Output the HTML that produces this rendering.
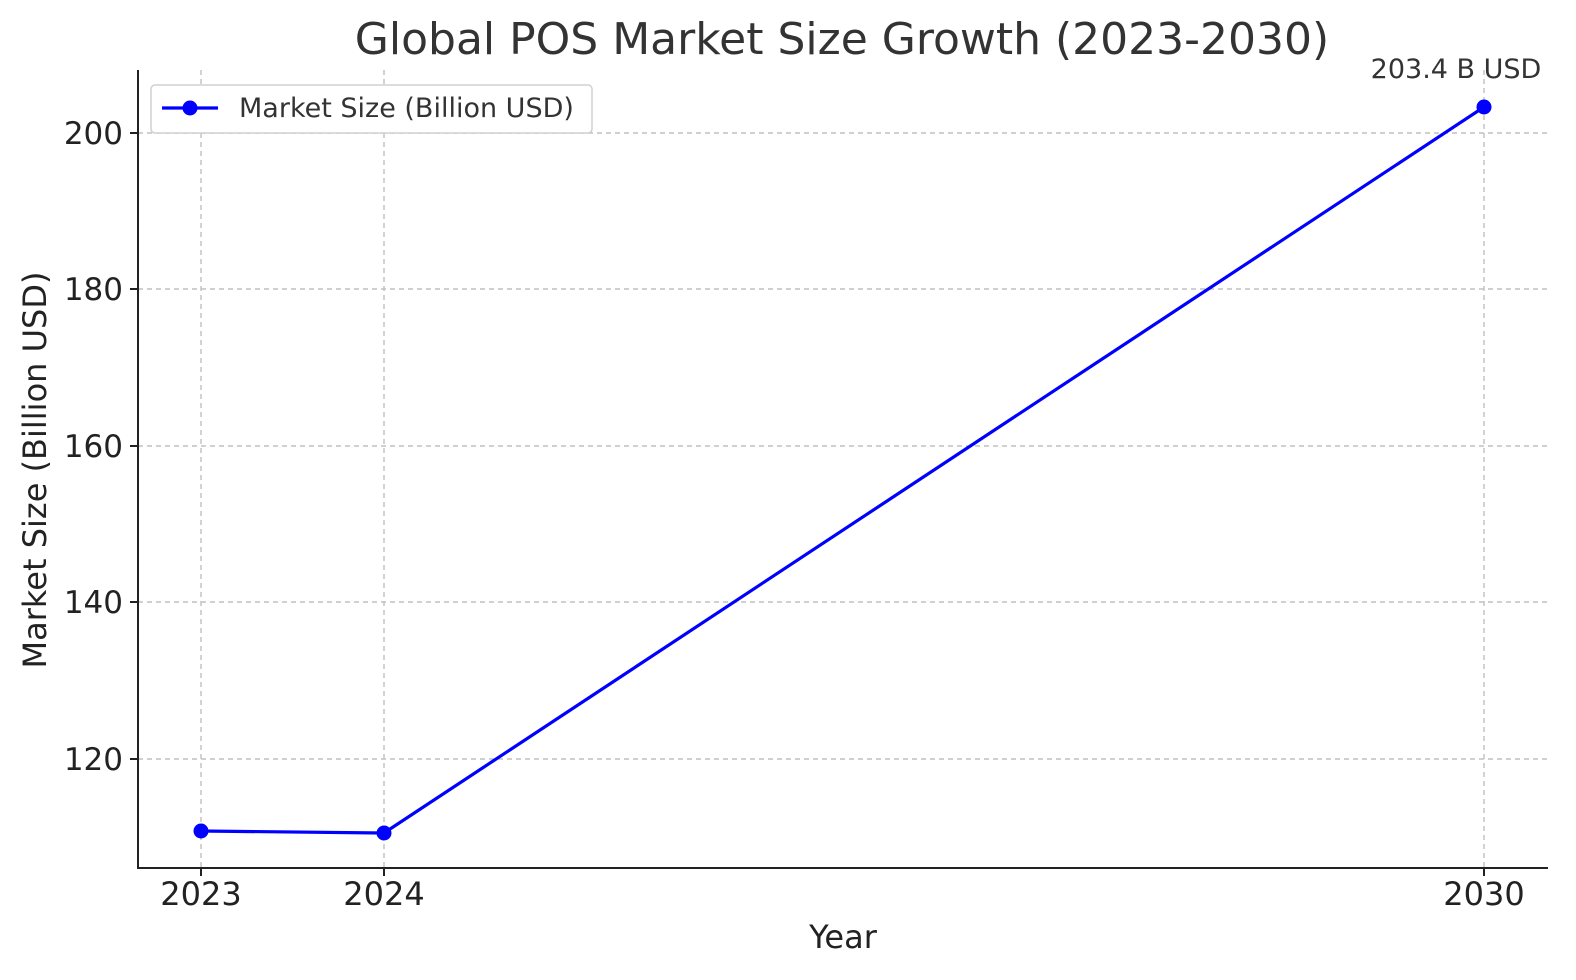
<!DOCTYPE html>
<html><head><meta charset="utf-8"><style>
html,body{margin:0;padding:0;background:#fff;}
svg{display:block;font-family:"DejaVu Sans","Liberation Sans",sans-serif;}
</style></head><body>
<svg width="1576" height="980" viewBox="0 0 1576 980" xmlns="http://www.w3.org/2000/svg">
<rect width="1576" height="980" fill="#fff"/>
<text x="842" y="54" font-size="44" fill="#333" text-anchor="middle">Global POS Market Size Growth (2023-2030)</text>
<g stroke="#c0c0c0" stroke-width="1.4" stroke-dasharray="5,4">
<line x1="138" y1="133" x2="1548" y2="133"/>
<line x1="138" y1="289" x2="1548" y2="289"/>
<line x1="138" y1="446" x2="1548" y2="446"/>
<line x1="138" y1="602" x2="1548" y2="602"/>
<line x1="138" y1="759" x2="1548" y2="759"/>
<line x1="201" y1="70" x2="201" y2="868"/>
<line x1="384" y1="70" x2="384" y2="868"/>
<line x1="1484" y1="70" x2="1484" y2="868"/>
</g>
<g stroke="#222" stroke-width="2">
<line x1="138" y1="70" x2="138" y2="869"/>
<line x1="137" y1="868" x2="1548" y2="868"/>
<line x1="130" y1="133" x2="138" y2="133"/>
<line x1="130" y1="289" x2="138" y2="289"/>
<line x1="130" y1="446" x2="138" y2="446"/>
<line x1="130" y1="602" x2="138" y2="602"/>
<line x1="130" y1="759" x2="138" y2="759"/>
<line x1="201" y1="868" x2="201" y2="876"/>
<line x1="384" y1="868" x2="384" y2="876"/>
<line x1="1484" y1="868" x2="1484" y2="876"/>
</g>
<g font-size="31" fill="#222" text-anchor="end">
<text x="123" y="144">200</text>
<text x="123" y="300">180</text>
<text x="123" y="457">160</text>
<text x="123" y="613">140</text>
<text x="123" y="770">120</text>
</g>
<g font-size="32" fill="#222" text-anchor="middle">
<text x="201" y="905">2023</text>
<text x="384" y="905">2024</text>
<text x="1484" y="905">2030</text>
<text x="843" y="948">Year</text>
</g>
<text transform="translate(46,470) rotate(-90)" font-size="32" fill="#222" text-anchor="middle">Market Size (Billion USD)</text>
<polyline points="201,831 384,833 1484,107" fill="none" stroke="#0000ff" stroke-width="3.2"/>
<g fill="#0000ff">
<circle cx="201" cy="831" r="7.5"/>
<circle cx="384" cy="833" r="7.5"/>
<circle cx="1484" cy="107" r="7.5"/>
</g>
<text x="1456" y="78" font-size="27" fill="#333" text-anchor="middle">203.4 B USD</text>
<rect x="151" y="85" width="441" height="48" rx="4" fill="#fff" stroke="#d0d0d0" stroke-width="1.5"/>
<line x1="162" y1="108" x2="218" y2="108" stroke="#0000ff" stroke-width="3.2"/>
<circle cx="190" cy="108" r="7.5" fill="#0000ff"/>
<text x="239" y="117" font-size="27" fill="#333">Market Size (Billion USD)</text>
</svg>
</body></html>
